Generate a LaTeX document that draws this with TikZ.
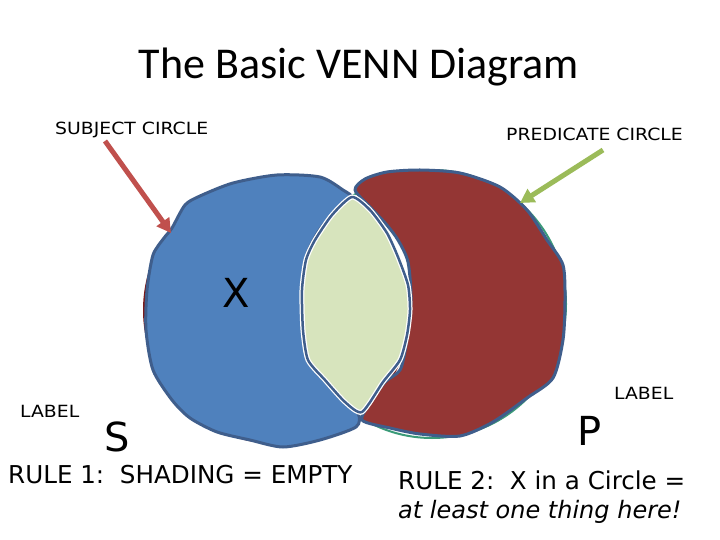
\documentclass[tikz,border=0pt]{standalone}
\usepackage{fontspec}
\setmainfont{Carlito}
\newfontfamily\verd{DejaVu Sans}
\newfontfamily\verdw[FakeStretch=1.12]{DejaVu Sans}
\usetikzlibrary{arrows.meta}
\definecolor{bluefill}{HTML}{4F81BD}
\definecolor{blueline}{HTML}{3F5E8C}
\definecolor{redfill}{HTML}{943634}
\definecolor{lensfill}{HTML}{D7E4BD}
\definecolor{redcirc}{HTML}{7A1A1A}
\definecolor{greencirc}{HTML}{3A9A78}
\definecolor{subjarrow}{HTML}{C0504D}
\definecolor{predarrow}{HTML}{9BBB59}
\tikzset{
  blob/.style={draw=blueline, line width=3pt, line join=round},
  lbl/.style={anchor=base west, inner sep=0pt, font=\verdw\fontsize{16.8}{19}\selectfont},
  big/.style={anchor=base, inner sep=0pt, font=\verd\fontsize{40}{46}\selectfont},
  rule/.style={anchor=base west, inner sep=0pt, font=\verd\fontsize{24.6}{29}\selectfont},
  pointer/.style={line width=5pt, -{Triangle[length=14pt,width=15pt]}},
}
\begin{document}
\begin{tikzpicture}[x=1pt,y=-1pt]
\useasboundingbox (0,0) rectangle (720,540);
\fill[white] (0,0) rectangle (720,540);
% title
\node[anchor=base, inner sep=0pt, font=\fontsize{44}{50}\selectfont] (title) at (359,79) {The Basic VENN Diagram};
% underlying circles
\draw[redcirc, line width=2pt] (277,310) circle[radius=133];
\draw[greencirc, line width=2pt] (432,304) circle[radius=134];
% blue (subject only) region
\path[blob, fill=bluefill] plot[smooth cycle, tension=0.45] coordinates {
 (172,228) (185,205) (200,196) (233,183) (277,175) (320,177) (343,190) (352,198)
 (335,212) (318,232) (306,258) (302,300) (303,335) (307,357) (322,377) (340,397)
 (358,413) (356,427) (320,440) (283,447) (250,440) (217,432) (190,418) (172,400)
 (153,370) (146,330) (147,290) (153,255) (164,238)};
% red (predicate only) region
\path[blob, fill=redfill] plot[smooth cycle, tension=0.45] coordinates {
 (355,190) (365,179) (387,172) (420,170) (460,173) (500,187) (527,210) (547,240)
 (563,265) (565,300) (563,340) (553,378) (527,398) (493,422) (460,436) (420,434)
 (390,428) (362,420) (372,400) (385,382) (400,370) (406,345) (411,300) (408,262)
 (398,240) (386,224) (370,207)};
% lens (intersection)
\path[draw=white, line width=5pt, fill=lensfill] plot[smooth cycle, tension=0.4] coordinates {
 (352,197) (370,210) (387,233) (398,257) (408,285) (410,310) (407,335) (400,360)
 (383,382) (362,412) (345,402) (325,380) (308,360) (303,330) (302,290) (306,260)
 (315,240) (332,215)};
\path[blob, line width=2.5pt] plot[smooth cycle, tension=0.4] coordinates {
 (352,197) (370,210) (387,233) (398,257) (408,285) (410,310) (407,335) (400,360)
 (383,382) (362,412) (345,402) (325,380) (308,360) (303,330) (302,290) (306,260)
 (315,240) (332,215)};
% texts
\node[lbl] (subj) at (55,135) {SUBJECT CIRCLE};
\node[lbl] (pred) at (506,141) {PREDICATE CIRCLE};
\node[big] (x) at (236,307) {X};
\node[lbl] (labS) at (20,417) {LABEL};
\node[lbl] (labP) at (614,399) {LABEL};
\node[big] (s) at (117,451) {S};
\node[big] (p) at (590,445) {P};
\node[rule] (rule1) at (8,483) {RULE 1:\ \ SHADING = EMPTY};
\node[rule] (rule2) at (398,489) {RULE 2:\ \ X in a Circle =};
\node[rule, font=\verd\itshape\fontsize{24}{29}\selectfont] (rule2b) at (398,518) {at least one thing here!};
% pointers
\coordinate (sa) at (105,141);
\coordinate (st) at (171,233);
\coordinate (pa) at (603,150);
\coordinate (pt) at (520,203);
\draw[pointer, subjarrow] (sa) -- (st);
\draw[pointer, predarrow] (pa) -- (pt);
\end{tikzpicture}
\end{document}
